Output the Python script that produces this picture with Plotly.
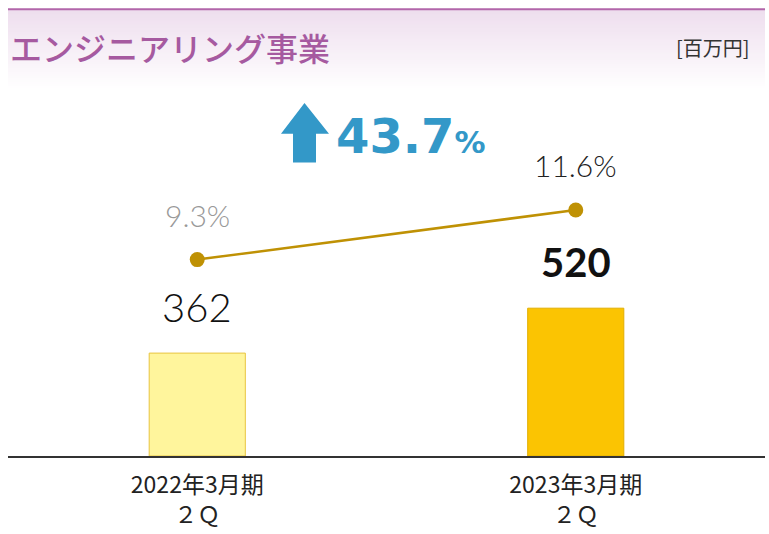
import plotly.graph_objects as go

# ---- data ----
categories = ["2022年3月期<br>２Ｑ", "2023年3月期<br>２Ｑ"]
sales = [362, 520]
margin_pct = [9.3, 11.6]
growth_pct = 43.7
title_text = "エンジニアリング事業"
unit_text = "[百万円]"

W, H = 769, 534
ML, MR, MT, MB = 8, 4, 91, 75
PW, PH = W - ML - MR, H - MT - MB


def px_x(x):
    return (x - ML) / PW


def px_y(y):
    return (H - MB - y) / PH


fig = go.Figure()

fig.add_trace(go.Bar(
    x=categories, y=sales, width=0.254,
    marker=dict(color=["#fff59c", "#fbc402"],
                line=dict(color=["#e8c440", "#e2ae00"], width=1)),
    hoverinfo="skip", showlegend=False,
))

fig.add_trace(go.Scatter(
    x=categories, y=margin_pct, yaxis="y2", mode="lines+markers",
    line=dict(color="#bf9104", width=2.5),
    marker=dict(color="#bf9104", size=15),
    hoverinfo="skip", showlegend=False,
))

annotations = []
# bar value labels
for i, (c, v) in enumerate(zip(categories, sales)):
    annotations.append(dict(
        x=c, y=v, xref="x", yref="y", yshift=46, showarrow=False,
        yanchor="middle",
        text=("<b>%d</b>" % v) if i == 1 else str(v),
        font=dict(family="Lato, Noto Sans", size=40, color="#111",
                  weight=700 if i == 1 else 300),
    ))
# percentage labels
for i, (c, v) in enumerate(zip(categories, margin_pct)):
    annotations.append(dict(
        x=c, y=v, xref="x", yref="y2", yshift=45, showarrow=False,
        yanchor="middle", text="%.1f%%" % v,
        font=dict(family="Lato, Noto Sans", size=30,
                  color="#999999" if i == 0 else "#222222", weight=300),
    ))
# growth text
annotations.append(dict(
    x=px_x(334), y=px_y(136), xref="paper", yref="paper", showarrow=False,
    xanchor="left", yanchor="middle",
    text="<b>%.1f</b><span style='font-size:31px'><b>%%</b></span>" % growth_pct,
    font=dict(family="DejaVu Sans", size=48, color="#3398c8"),
))
# title
annotations.append(dict(
    x=px_x(8), y=px_y(47), xref="paper", yref="paper", showarrow=False,
    xanchor="left", yanchor="middle", text=title_text,
    font=dict(family="Noto Sans CJK JP", size=32, color="#a65aa0", weight=500),
))
annotations.append(dict(
    x=px_x(752), y=px_y(47), xref="paper", yref="paper", showarrow=False,
    xanchor="right", yanchor="middle", text=unit_text,
    font=dict(family="Noto Sans CJK JP", size=20, color="#333"),
))

shapes = []
# header gradient
n = 40
top, bot = 9, 90
c0 = (238, 222, 238)
for k in range(n):
    t = k / (n - 1)
    col = tuple(round(c0[j] + (255 - c0[j]) * t) for j in range(3))
    y0 = top + (bot - top) * k / n
    y1 = top + (bot - top) * (k + 1) / n + 0.6
    shapes.append(dict(type="rect", xref="paper", yref="paper",
                       x0=px_x(8), x1=px_x(765), y0=px_y(y1), y1=px_y(y0),
                       fillcolor="rgb(%d,%d,%d)" % col, line=dict(width=0),
                       layer="below"))
shapes.append(dict(type="line", xref="paper", yref="paper",
                   x0=px_x(8), x1=px_x(765), y0=px_y(8.5), y1=px_y(8.5),
                   line=dict(color="#b266aa", width=2)))
# arrow
pts = [(304.5, 103), (329, 134), (316, 134), (316, 163), (293, 163), (293, 134), (281, 134)]
path = "M " + " L ".join("%f,%f" % (px_x(a), px_y(b)) for a, b in pts) + " Z"
shapes.append(dict(type="path", xref="paper", yref="paper", path=path,
                   fillcolor="#3398c8", line=dict(width=0)))

fig.update_layout(
    width=W, height=H,
    margin=dict(l=ML, r=MR, t=MT, b=MB),
    paper_bgcolor="white", plot_bgcolor="rgba(0,0,0,0)",
    xaxis=dict(type="category", range=[-0.5, 1.5], showline=True,
               linecolor="#333", linewidth=1.5, showgrid=False, ticks="",
               ticklabelstandoff=8,
               tickfont=dict(family="Noto Sans CJK JP", size=23, color="#222"),
               fixedrange=True),
    yaxis=dict(range=[0, 1284], visible=False, fixedrange=True),
    yaxis2=dict(range=[0.19, 17.12], overlaying="y", visible=False, fixedrange=True),
    annotations=annotations, shapes=shapes, showlegend=False,
)

fig.write_html("out.html", config={"displayModeBar": False},
               post_script="document.body.style.margin='0';document.body.style.overflow='hidden';")
